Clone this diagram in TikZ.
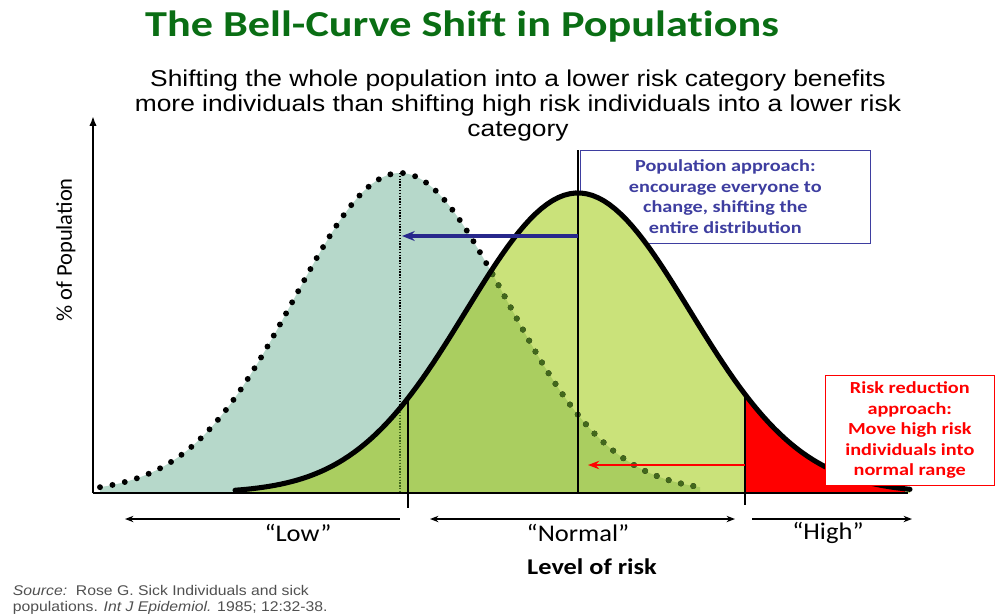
\documentclass[tikz,border=0pt]{standalone}
\usepackage{fontspec}
\setmainfont{Carlito}
\newfontfamily\arialfont{Liberation Sans}
\usetikzlibrary{arrows.meta}

\definecolor{titlegreen}{RGB}{10,110,20}
\definecolor{tealfill}{RGB}{182,216,202}
\definecolor{lightgreen}{RGB}{202,226,122}
\definecolor{darkgreen}{RGB}{170,206,96}
\definecolor{dotgreen}{RGB}{66,104,28}
\definecolor{boxblue}{RGB}{62,62,160}
\definecolor{arrowblue}{RGB}{40,40,140}
\definecolor{srcgray}{RGB}{80,80,80}

\newcommand{\wide}[1]{\addfontfeatures{FakeStretch=#1}}

\tikzset{
  dotcurve/.style={line width=4.2pt, dash pattern=on 0pt off 9pt, line cap=round},
  bell/.style={line width=3.6pt, line cap=round},
  axisline/.style={line width=1.6pt},
  spanline/.style={line width=1.1pt},
  riskword/.style={font=\fontsize{17}{20}\selectfont\wide{1.11}},
  notebox/.style={draw, fill=white, align=center, font=\fontsize{12}{14.6}\selectfont\bfseries\wide{1.2}}
}

\begin{document}
\begin{tikzpicture}[x=0.025cm, y=-0.025cm,
  declare function={lb(\x)=493-320*exp(-0.5*((\x-400)/106)^2);
                    rb(\x)=493-300*exp(-0.5*((\x-578)/112)^2);}]
\useasboundingbox (0,0) rectangle (995,614);

% headings
\node[font=\fontsize{26}{30}\selectfont\bfseries\addfontfeatures{FakeStretch=1.21, Ligatures=NoCommon}, text=titlegreen] (title) at (462,27) {The Bell-Curve Shift in Populations};
\node[font=\arialfont\fontsize{16.3}{17.8}\selectfont\wide{1.15}, align=center] (subtitle) at (518,106)
  {Shifting the whole population into a lower risk category benefits\\
   more individuals than shifting high risk individuals into a lower risk\\
   category};

% population box (behind the curves)
\node[notebox, draw=boxblue, text=boxblue, anchor=north west, minimum width=7.25cm, minimum height=2.325cm]
  (popbox) at (580,150) {Population approach:\\encourage everyone to\\change, shifting the\\entire distribution};

% curves
\fill[tealfill] (100,493) -- plot[domain=100:700, samples=120] (\x,{lb(\x)}) -- (700,493) -- cycle;
\fill[lightgreen] (235,493) -- plot[domain=235:910, samples=120] (\x,{rb(\x)}) -- (910,493) -- cycle;
\begin{scope}
  \clip (235,493) -- plot[domain=235:910, samples=120] (\x,{rb(\x)}) -- (910,493) -- cycle;
  \fill[darkgreen] (100,493) -- plot[domain=100:700, samples=120] (\x,{lb(\x)}) -- (700,493) -- cycle;
\end{scope}
\fill[red] (745,493) -- plot[domain=745:905, samples=60] (\x,{rb(\x)}) -- (905,493) -- cycle;

\draw[dotcurve] plot[domain=100:700, samples=120] (\x,{lb(\x)});
\draw[densely dotted, line width=1pt] (400,173) -- (400,493);
\begin{scope}
  \clip (235,493) -- plot[domain=235:910, samples=120] (\x,{rb(\x)}) -- (910,493) -- cycle;
  \draw[dotcurve, dotgreen] plot[domain=100:700, samples=120] (\x,{lb(\x)});
  \draw[densely dotted, line width=1pt, dotgreen] (400,173) -- (400,493);
\end{scope}

% cut lines
\draw[line width=1.3pt] (408,{rb(408)}) -- (408,508);
\draw[line width=1.3pt] (578,150) -- (578,493);
\draw[line width=1.3pt] (745,{rb(745)}) -- (745,505);

\draw[bell] plot[domain=235:910, samples=120] (\x,{rb(\x)});

% axes
\coordinate (origin) at (93,493);
\coordinate (ytip) at (93,116);
\coordinate (xend) at (908,493);
\draw[axisline, -{Latex[length=7pt]}] (origin) -- (ytip);
\draw[axisline] (origin) -- (xend);
\node[font=\fontsize{16}{18}\selectfont, rotate=90] (ylab) at (66,250) {\% of Population};

% shift arrows
\coordinate (bluefrom) at (578,236);
\coordinate (blueto) at (402,236);
\draw[arrowblue, line width=2.2pt, -{Stealth[length=9pt, width=7pt]}] (bluefrom) -- (blueto);
\coordinate (redfrom) at (745,465);
\coordinate (redto) at (588,465);
\draw[red, line width=1.6pt, -{Stealth[length=8pt, width=6pt]}] (redfrom) -- (redto);

% risk reduction box
\node[notebox, draw=red, text=red, anchor=north west, minimum width=4.225cm, minimum height=2.75cm]
  (riskbox) at (825,375) {Risk reduction\\approach:\\Move high risk\\individuals into\\normal range};

% ranges
\coordinate (lowA) at (125,519);
\coordinate (lowB) at (400,519);
\coordinate (normA) at (430,519);
\coordinate (normB) at (735,519);
\coordinate (highA) at (752,519);
\coordinate (highB) at (912,519);
\draw[spanline, {Stealth[length=6pt]}-] (lowA) -- (lowB);
\draw[spanline, {Stealth[length=6pt]}-{Stealth[length=6pt]}] (normA) -- (normB);
\draw[spanline, -{Stealth[length=6pt]}] (highA) -- (highB);
\node[riskword] (low) at (298,533) {“Low”};
\node[riskword] (normal) at (578,533) {“Normal”};
\node[riskword] (high) at (828,533) {“High”};
\node[font=\fontsize{16}{19}\selectfont\bfseries\wide{1.17}] (xlab) at (592,567) {Level of risk};

% source
\node[font=\arialfont\fontsize{10}{11.5}\selectfont\wide{1.12}, text=srcgray, align=left, anchor=north west] (source) at (8,580)
  {\textit{Source:}\ \ Rose G. Sick Individuals and sick\\populations. \textit{Int J Epidemiol.} 1985; 12:32-38.};
\end{tikzpicture}
\end{document}
